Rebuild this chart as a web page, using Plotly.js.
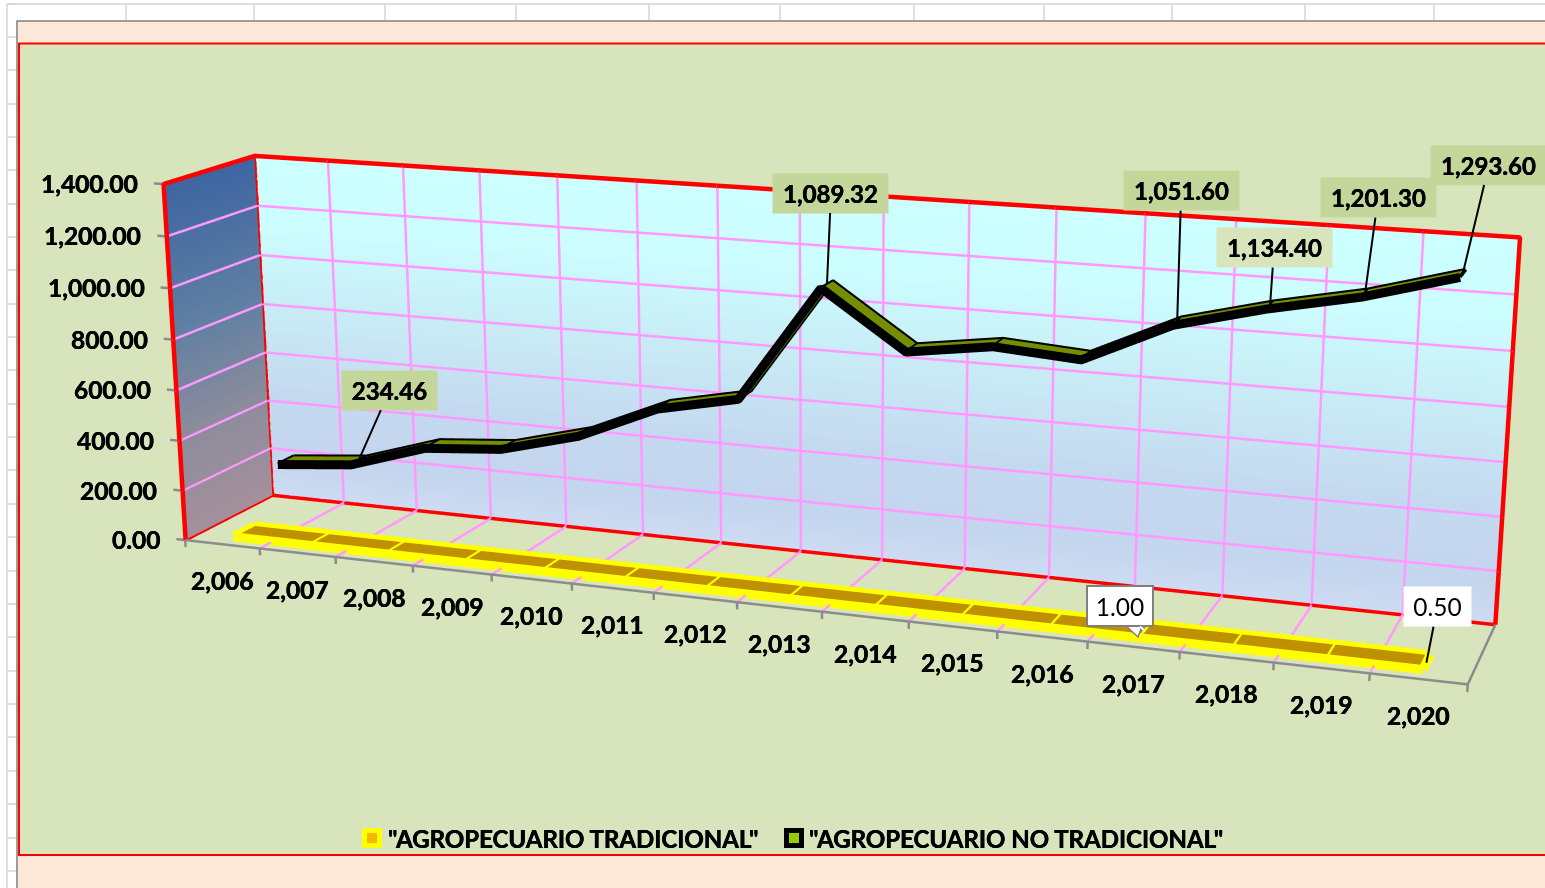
<!DOCTYPE html>
<html><head><meta charset="utf-8"><script src="https://cdn.plot.ly/plotly-3.0.1.min.js"></script>
<style>html,body{margin:0;padding:0;background:#fff;overflow:hidden}#c{width:1545px;height:888px}</style></head><body><div id="c"></div>
<script>
const years=[2006,2007,2008,2009,2010,2011,2012,2013,2014,2015,2016,2017,2018,2019,2020];
const yearLabels=['2,006','2,007','2,008','2,009','2,010','2,011','2,012','2,013','2,014','2,015','2,016','2,017','2,018','2,019','2,020'];
const noTrad=[205,234.46,332,358,440,576,642,1089.32,876,922,900,1051.6,1134.4,1201.3,1293.6];
const trad=[1,1,1,1,1,1,1,1,1,1,1,1,1,1,0.5];
const zTicks=[0,200,400,600,800,1000,1200,1400];
const zLabels=['0.00','200.00','400.00','600.00','800.00','1,000.00','1,200.00','1,400.00'];
const nameTrad='"AGROPECUARIO TRADICIONAL"', nameNo='"AGROPECUARIO NO TRADICIONAL"';

const X0=2005.5,X1=2020.5,Y0=0,Y1=2,Z0=0,Z1=1400;
const FAM='Lato, "Open Sans", sans-serif';
const HEAVY='0.3px 0 0 #000, -0.3px 0 0 #000';
const boldFont=s=>({family:FAM,size:s,color:'#000',shadow:HEAVY});
const boundaries=years.map(v=>v-0.5).concat([X1]);
const bold=t=>'<b>'+t+'</b>';

function segs(list){const x=[],y=[],z=[];list.forEach(s=>{s.forEach(p=>{x.push(p[0]);y.push(p[1]);z.push(p[2]);});x.push(null);y.push(null);z.push(null);});return {x,y,z};}
function lineTrace(list,color,width){return Object.assign({type:'scatter3d',mode:'lines',line:{color,width},hoverinfo:'skip',showlegend:false},segs(list));}
function flat(c){return [[0,c],[1,c]];}
const noLight={ambient:1,diffuse:0,specular:0,roughness:1,fresnel:0};
const noCont={x:{highlight:false},y:{highlight:false},z:{highlight:false}};
function wall(xr,yr,cs){
  return {type:'surface',x:gridZ.map(()=>xr),y:gridZ.map(()=>yr),z:gridZ.map(z=>[z,z]),surfacecolor:fr.map(f=>[f,f]),colorscale:cs,cmin:0,cmax:1,showscale:false,hoverinfo:'skip',lighting:noLight,contours:noCont};
}
function ribbon(vals,yc,w,color){
  return {type:'surface',x:years,y:[yc-w,yc+w],z:[vals,vals],surfacecolor:[vals.map(()=>0.5),vals.map(()=>0.5)],colorscale:flat(color),cmin:0,cmax:1,showscale:false,hoverinfo:'skip',lighting:noLight,contours:noCont};
}
const fr=[0,0.05,0.1,0.2,0.3,0.45,0.6,0.75,0.9,1];
const gridZ=fr.map(f=>Z0+f*(Z1-Z0));
const backCS=[[0,'#cddcf2'],[0.1,'#c4d5ee'],[0.3,'#c4d9f0'],[0.55,'#c8ebf5'],[0.8,'#ccfdff'],[1,'#ccffff']];
const leftCS=[[0,'#a58f9c'],[0.3,'#8c8c9c'],[0.6,'#5f7fa2'],[1,'#3e65a2']];
const backWall=wall([X0,X1],[Y1,Y1],backCS);
const leftWall=wall([X0,X0],[Y0,Y1],leftCS);

const EPS=0.006;
const pink='#ff99ff';
const gridLines=[];
boundaries.slice(1,-1).forEach(b=>{gridLines.push([[b,Y1-EPS,Z1],[b,Y1-EPS,Z0]]);});
boundaries.slice(1).forEach(b=>{gridLines.push([[b,Y1,Z0],[b,Y0,Z0]]);});
zTicks.slice(1,-1).forEach(v=>{gridLines.push([[X0+0.006,Y0,v],[X0+0.006,Y1-EPS,v],[X1,Y1-EPS,v]]);});

const redLines=[
 [[X0,Y0,Z0],[X0,Y1-EPS,Z0],[X1,Y1-EPS,Z0]],
 [[X0+0.006,Y1-EPS,Z0],[X0+0.006,Y1-EPS,Z1]],
];
const redThick=[[[X0+0.006,Y0,Z0],[X0+0.006,Y0,Z1],[X0+0.006,Y1-EPS,Z1],[X1,Y1-EPS,Z1],[X1,Y1-EPS,Z0]]];
const grayLines=[[[X0,Y0,Z0],[X1,Y0,Z0],[X1,Y1,Z0]]];
boundaries.forEach(b=>grayLines.push([[b,Y0,Z0],[b,Y0,-28]]));
zTicks.forEach(v=>grayLines.push([[X0,Y0,v],[X0-0.12,Y0,v]]));

function edges(vals,yc,w){
  return [years.map((x,i)=>[x,yc-w,vals[i]]),years.map((x,i)=>[x,yc+w,vals[i]]),
    [[years[0],yc-w,vals[0]],[years[0],yc+w,vals[0]]],
    [[years[14],yc-w,vals[14]],[years[14],yc+w,vals[14]]]];
}
function crosses(vals,yc,w){return years.slice(1,-1).map((x,i)=>[[x,yc-w,vals[i+1]],[x,yc+w,vals[i+1]]]);}
const YC1=0.5,YC2=1.52,W1=0.24,W2=0.19;
const tradLift=trad.map(v=>v+3);
const tradEdge=tradLift.map(v=>v+1), noEdge=noTrad.map(v=>v+1);
const data=[
 backWall,leftWall,
 lineTrace(gridLines,pink,5),
 lineTrace(redLines,'#ff0000',7),
 lineTrace(redThick,'#ff0000',9),
 lineTrace(grayLines,'#8c8c8c',5),
 ribbon(tradLift,YC1,W1,'#bf9000'),
 Object.assign(lineTrace(edges(tradEdge,YC1,W1),'#ffff00',18),{name:nameTrad}),
 lineTrace(crosses(tradEdge,YC1,W1),'#ffff00',7),
 ribbon(noTrad,YC2,W2,'#748e00'),
 Object.assign(lineTrace([years.map((x,i)=>[x,YC2-W2,noTrad[i]-1])],'#000000',18),{name:nameNo}),
 lineTrace(edges(noEdge,YC2,W2),'#000000',7),
 lineTrace(crosses(noEdge,YC2,W2),'#000000',6),
];

const W=1545,H=888;
const px=v=>v/W, py=v=>1-v/H;
function rect(x0,y0,x1,y1,fill,line,lw,layer){return {type:'rect',xref:'paper',yref:'paper',x0:px(x0),x1:px(x1),y0:py(y0),y1:py(y1),fillcolor:fill,line:{color:line||fill,width:lw||0},layer:layer||'below'};}
function seg(x0,y0,x1,y1,c,w){return {type:'line',xref:'paper',yref:'paper',x0:px(x0),x1:px(x1),y0:py(y0),y1:py(y1),line:{color:c,width:w},layer:'below'};}
const colX=[126,254,385,516,649,780,914,1044,1172,1305,1434];
const rowY=[4,37,70,104,137,170,204,237,270,304,337,370,404,437,470,504,537,571,604,637,671,704,737,771,804,838,871];
const sheet=[];
colX.forEach(x=>sheet.push(seg(x,4,x,21,'#d4d4d4',1.5)));
rowY.forEach(y=>sheet.push(seg(7,y,17,y,'#d4d4d4',1.5)));
sheet.push(seg(7,4,W,4,'#d4d4d4',1.5));
sheet.push(seg(7,4,7,H,'#d4d4d4',1.5));
const pointer='M '+[[1126,626],[1138,637],[1142,626]].map(p=>px(p[0])+' '+py(p[1])).join(' L ');
const shapes=sheet.concat([
 rect(17,21,W+5,H+5,'#fde9d9','#808080',1.5),
 rect(19,43.5,W+5,855,'#d8e4bc','#ff0000',2),
 rect(362,828,382,848,'#ffff00',null,0,'above'),
 rect(367,833,377,843,'#f5b800',null,0,'above'),
 rect(784,828,804,848,'#000000',null,0,'above'),
 rect(789,833,799,843,'#9acd00',null,0,'above'),
 {type:'path',xref:'paper',yref:'paper',path:pointer,fillcolor:'#ffffff',line:{color:'#7f7f7f',width:1.5},layer:'above'},
]);

const ann=[];
zTicks.forEach((v,i)=>ann.push({x:X0,y:Y0,z:v,text:bold(zLabels[i]),showarrow:false,xanchor:'right',yanchor:'middle',xshift:-23,font:boldFont(24.5)}));
years.forEach((v,i)=>ann.push({x:v,y:Y0,z:Z0,text:bold(yearLabels[i]),showarrow:false,xanchor:'center',yanchor:'middle',yshift:-37,font:boldFont(24.5)}));
function call(year,yc,val,ax,ay,bg,opts){
  const t=val.toLocaleString('en-US',{minimumFractionDigits:2,maximumFractionDigits:2});
  ann.push(Object.assign({x:year,y:yc,z:val,text:bold(t),showarrow:true,arrowhead:0,arrowwidth:2,arrowcolor:'#000',ax,ay,bgcolor:bg,width:113,height:37,font:boldFont(24)},opts||{}));
}
call(2007,YC2,noTrad[1],31,-70,'#c4d79b',{width:93});
call(2013,YC2,noTrad[7],4,-91,'#c4d79b');
call(2017,YC2,noTrad[11],4,-130,'#c4d79b');
call(2018,YC2,noTrad[12],4,-57,'#d8e4bc');
call(2019,YC2,noTrad[13],13,-95,'#c4d79b');
call(2020,YC2,noTrad[14],26,-108,'#c4d79b');
call(2020,YC1,trad[14],11,-56,'#ffffff',{width:65,text:'0.50',font:{family:FAM,size:24.5,color:'#000'}});
call(2017,YC1,trad[11],-25,-25,'#ffffff',{width:62,height:36,bordercolor:'#7f7f7f',borderwidth:2,arrowcolor:'#ffffff',text:'1.00',font:{family:FAM,size:24.5,color:'#000'}});

const hidden={title:{text:''},showgrid:false,zeroline:false,showline:false,showticklabels:false,showspikes:false,showbackground:false,ticks:''};
const layout={width:W,height:H,paper_bgcolor:'#ffffff',plot_bgcolor:'#ffffff',showlegend:false,
 margin:{l:0,r:0,t:0,b:0},shapes,
 annotations:[
  {xref:'paper',yref:'paper',x:px(386),y:py(838),xanchor:'left',yanchor:'middle',showarrow:false,text:bold(nameTrad),font:boldFont(24)},
  {xref:'paper',yref:'paper',x:px(807),y:py(838),xanchor:'left',yanchor:'middle',showarrow:false,text:bold(nameNo),font:boldFont(24)}
 ],
 scene:{domain:{x:[124/W,1],y:[3.5/H,791.5/H]},aspectmode:'manual',aspectratio:{x:3.53*15.3/15,y:0.48,z:1*1456/1400},
  camera:{eye:{x:2.63,y:-7.16,z:1.93},center:{x:0.08,y:-0.04,z:-0.234},up:{x:0,y:0,z:1},projection:{type:'perspective'}},
  xaxis:Object.assign({range:[X0-0.15,X1+0.15]},hidden),
  yaxis:Object.assign({range:[Y0,Y1]},hidden),
  zaxis:Object.assign({range:[-28,1428]},hidden),
  annotations:ann}};
Plotly.newPlot('c',data,layout,{displayModeBar:false}).then(gd=>{
  const s=gd._fullLayout.scene._scene;
  s.glplot.fovy=2*Math.atan(394/3007);
  s.glplot.redraw();
});
</script></body></html>
